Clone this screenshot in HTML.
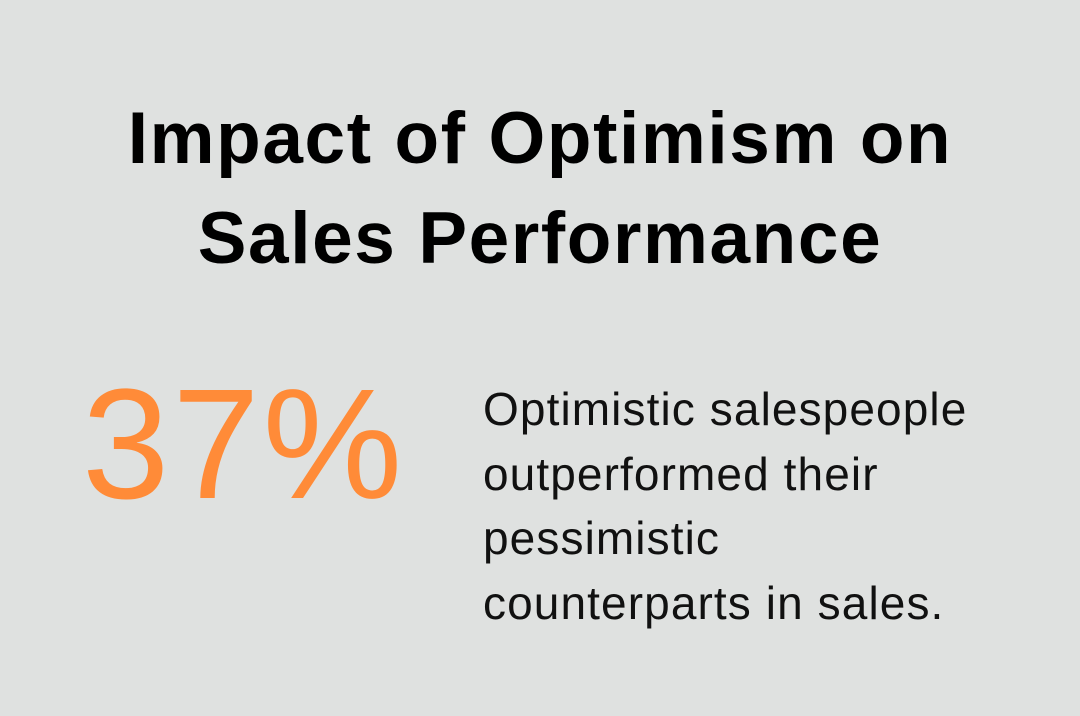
<!DOCTYPE html>
<html><head><meta charset="utf-8"><style>
html,body{margin:0;padding:0}
body{width:1080px;height:716px;background:#dfe1e0;position:relative;overflow:hidden;font-family:"Liberation Sans",sans-serif}
.t{position:absolute;left:0;width:1080px;text-align:center;font-weight:bold;font-size:73px;letter-spacing:1.6px;color:#000;line-height:100px;white-space:nowrap}
.big{position:absolute;left:82px;top:360px;font-size:157px;letter-spacing:3px;color:#ff8b38;line-height:170px;white-space:nowrap}
.d{position:absolute;left:483px;top:377px;font-size:46px;letter-spacing:1.1px;color:#111;line-height:64.5px;white-space:nowrap}
</style></head><body>
<div class="t" style="top:89px">Impact of Optimism on</div>
<div class="t" style="top:189px">Sales Performance</div>
<div class="big">37%</div>
<div class="d">Optimistic salespeople<br>outperformed their<br>pessimistic<br>counterparts in sales.</div>
</body></html>
